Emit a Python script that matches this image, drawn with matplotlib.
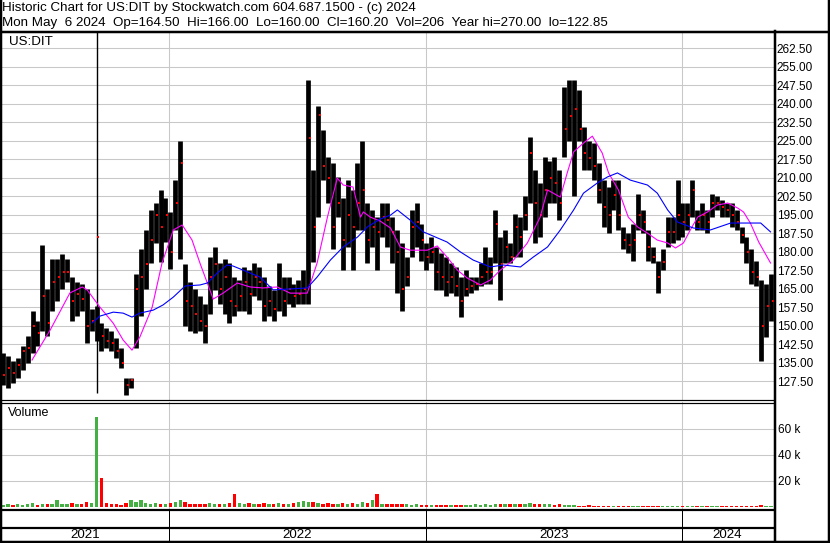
import numpy as np
import pandas as pd
import matplotlib
matplotlib.use("Agg")
import matplotlib.pyplot as plt
from matplotlib.lines import Line2D

plt.rcParams['font.family'] = ['Liberation Sans', 'DejaVu Sans']

# weekly bars, first week starting 2021-05-10
start = pd.Timestamp('2021-05-10')

hi = [139, 138, 136, 137, 142, 146, 156, 152, 183, 165,
      177, 177, 179, 177, 170, 168, 167, 165, 157, 158,
      151, 149, 148, 145, 141, 129, 129, 171, 181, 189,
      197, 200, 205, 202, 196, 209, 225, 175, 168, 165,
      162, 159, 178, 182, 175.5, 177, 175.5, 170, 168.5, 174,
      172.5, 175.5, 174, 170, 166, 164.5, 175.5, 170, 170, 167,
      168.5, 172.5, 249.5, 213, 239, 229.5, 218.5, 216, 210.5, 202,
      209, 205, 216, 225, 200, 197, 194, 200, 200, 194,
      189, 183.5, 178, 197, 200, 191.5, 183.5, 186, 182, 179.5,
      178, 175.5, 174, 170, 172.5, 170, 170, 175.5, 182, 178,
      197, 186, 189, 183.5, 195.5, 194, 202.5, 226.5, 213, 208,
      218.5, 217, 218.5, 213, 247, 249.5, 249.5, 245.5, 230.5, 225,
      224, 216, 209, 206.5, 209, 209, 190, 187.5, 191.5, 203.5,
      197, 189, 182, 176.5, 181, 194, 194, 209, 200, 200,
      209, 197, 200, 197, 203.5, 202.5, 201, 200, 200, 197,
      190, 186, 181, 176.5, 168.5, 167, 171]

lo = [126, 125, 127, 129, 132, 135, 139, 142, 148, 146,
      156, 160, 165, 168, 152, 154, 156, 143, 148, 144,
      140, 141, 140, 137, 133, 122, 125, 141, 154, 165,
      175.5, 183.5, 176, 184, 173, 189, 177, 150, 148, 147,
      148, 143, 155, 164.5, 159, 155, 151, 154, 156, 156,
      155, 162, 160.5, 152, 154, 152, 156, 154, 159, 157.5,
      159, 159, 159, 176, 194, 209, 200, 181, 194, 172.5,
      182, 172.5, 189, 189, 175.5, 182, 172.5, 186, 182, 175.5,
      163.5, 156, 166, 178, 182, 176.5, 172.5, 175.5, 164.5, 164.5,
      162, 163.5, 162, 153.5, 162, 163.5, 164.5, 166, 167, 167,
      175.5, 160.5, 175.5, 175.5, 178, 178, 189, 200, 183.5, 186,
      194, 200, 200, 193, 218.5, 225, 202.5, 225, 213, 213,
      209, 200, 190, 187.5, 197, 189, 181, 179.5, 176.5, 189,
      187.5, 176.5, 175.5, 163.5, 172.5, 182, 183.5, 185, 186, 189,
      194, 189, 189, 187.5, 194, 197, 194, 194, 190, 189,
      183.5, 175.5, 167, 166, 136, 145.5, 152]

cl = [130, 133, 131, 134, 140, 141, 150, 147, 162, 151,
      168, 170, 172, 172, 160, 163, 161, 150, 152, 186,
      146, 144, 143, 140, 135, 126, 128, 165, 170, 175,
      185, 195, 190, 195, 180, 200, 216, 160, 158, 155,
      152, 150, 170, 175, 165, 170, 160, 158, 162, 168,
      163, 170, 168, 158, 160, 157, 165, 160, 165, 162,
      163, 165, 226, 190, 235.5, 215, 210, 190, 200, 185,
      195, 190, 200, 205, 185, 190, 188, 194, 193, 188,
      180, 165, 170, 190, 192, 185, 178, 180, 172, 170,
      168, 170, 166, 160, 165, 166, 167, 170, 172, 172,
      191.5, 175, 182, 178, 190, 186, 195, 220, 200, 195,
      205, 210, 208, 200, 230, 235, 238, 230, 220, 218,
      215, 205, 198, 195, 203, 195, 185, 183, 185, 195,
      192, 182, 178, 170, 176, 188, 188, 195, 192, 195,
      205, 192, 195, 192, 200, 200, 198, 197, 195, 192,
      187, 180, 172, 170, 150, 158, 160.2]

# single-day spike (the 270.00 year high print)
spike_wk = [19]
spike_hi = [270]
spike_lo = [123]

vol_k = [1.5, 2, 1.2, 2.5, 1.8, 2, 2.8, 1.5, 2.2, 2.5,
         2.5, 5, 2, 2.5, 3, 2, 2.5, 3.5, 3, 69,
         22, 3, 2, 2.5, 1.5, 3, 5.5, 4, 5, 3,
         2.5, 3, 2, 2.5, 3, 3.5, 5, 3.5, 2.5, 2,
         2.5, 2, 3, 2.5, 2, 2.5, 3, 10, 3, 2.5,
         3, 2, 2.5, 3, 2.5, 2, 3, 2.5, 2, 3,
         3.5, 4.5, 4, 3.5, 3, 2.5, 3, 2, 2.5, 3,
         2, 3, 2.5, 3.5, 3, 5, 10, 2.5, 2, 2.5,
         2, 2.5, 2, 1.5, 2, 1.5, 1.5, 1.2, 1.5, 1.2,
         1.5, 1.2, 1.5, 1.8, 1.5, 1.5, 2, 1.5, 2, 1.5,
         2, 2.5, 2, 2.5, 2, 2.5, 2, 3, 2.5, 2,
         2.5, 2, 1.5, 2, 1.5, 1.2, 1.5, 1, 1, 1.2,
         0.8, 0.8, 1, 0.8, 0.8, 0.6, 0.8, 0.6, 0.8, 0.6,
         0.8, 0.6, 0.6, 0.8, 0.6, 0.8, 1, 0.8, 0.6, 0.6,
         0.8, 0.6, 0.6, 0.8, 0.6, 0.6, 0.5, 0.6, 0.6, 0.8,
         0.6, 0.8, 1, 0.8, 1.2, 1, 0.8]

# moving averages (week index, price)
pink_wk = [5.9, 9.6, 13.6, 16.1, 17.1, 19.7, 22.4, 24.4, 26.2, 27.8, 30.3, 32.3, 34.6, 36.4,
           38.4, 40.0, 41.5, 42.7, 44.7, 47.6, 50.2, 52.8, 55.7, 58.3, 61.8, 63.8, 65.9, 67.9,
           69.1, 71.1, 72.6, 73.2, 74.6, 76.6, 78.7, 80.7, 82.7, 86.2, 88.2, 90.2, 92.3, 94.3,
           97.0, 99.0, 101.0, 103.7, 106.5, 109.1, 110.6, 113.2, 114.6, 115.9, 117.9, 119.7,
           121.7, 123.0, 125.0, 127.0, 128.9, 130.9, 132.9, 135.0, 136.6, 138.2, 139.6, 141.1,
           143.1, 145.1, 147.2, 149.2, 150.4, 151.8, 153.5, 155.9]
pink_val = [136.2, 148.4, 163.4, 165.8, 164.6, 157.6, 151.1, 144.3, 140.2, 145.5, 157.6, 175.5,
            188.9, 190.9, 184.8, 175.5, 167.4, 160.9, 163.3, 167.4, 165.8, 165.4, 165.8, 163.3,
            163.3, 175.5, 194.1, 209.9, 207.1, 206.3, 194.1, 196.2, 194.1, 192.5, 189.7, 182.0,
            180.7, 180.7, 182.4, 177.9, 172.6, 169.4, 166.6, 168.6, 172.6, 176.7, 183.6, 194.1,
            205.1, 202.2, 212.0, 220.5, 224.1, 226.9, 220.1, 212.0, 205.1, 194.1, 190.1, 187.6,
            184.8, 183.6, 181.6, 183.6, 188.9, 194.1, 196.2, 199.0, 199.8, 197.8, 196.2, 191.7,
            184.0, 175.5]
blue_wk = [18.1, 19.7, 22.4, 24.4, 26.2, 27.8, 30.5, 32.5, 34.6, 37.0, 40.0, 41.5, 43.5, 45.5,
           46.7, 48.8, 52.2, 54.9, 58.3, 61.8, 63.8, 66.5, 69.1, 72.0, 74.0, 76.6, 78.7, 80.1,
           82.7, 85.4, 90.2, 92.9, 95.5, 99.0, 101.6, 105.1, 107.7, 110.6, 113.2, 115.9, 117.9,
           120.7, 122.8, 124.8, 127.4, 130.9, 132.9, 135.0, 137.0, 140.2, 143.7, 147.8, 150.4,
           153.9, 155.9]
blue_val = [151.2, 154.0, 155.6, 155.2, 153.6, 155.2, 156.4, 158.5, 161.7, 166.2, 166.6, 167.4,
            171.4, 174.7, 174.3, 172.6, 169.8, 164.6, 165.0, 165.4, 169.8, 176.7, 182.0, 186.0,
            190.1, 193.3, 194.9, 197.0, 192.9, 188.1, 184.0, 180.0, 176.7, 173.9, 174.7, 173.9,
            177.9, 182.0, 188.9, 197.0, 203.8, 207.9, 210.4, 212.0, 209.1, 207.1, 203.8, 197.0,
            192.1, 189.7, 188.9, 191.7, 191.7, 191.7, 188.1]

years = [2021, 2022, 2023, 2024]

title1 = "Historic Chart for US:DIT by Stockwatch.com 604.687.1500 - (c) 2024"
title2 = ("Mon May  6 2024  Op=164.50  Hi=166.00  Lo=160.00  Cl=160.20  "
          "Vol=206  Year hi=270.00  lo=122.85")

W, H = 830, 543


def box(x0, y0, x1, y1):
    return [x0 / W, 1 - y1 / H, (x1 - x0) / W, (y1 - y0) / H]


def fig_line(fig, x0, y0, x1, y1, lw=1.0):
    fig.add_artist(Line2D([x0 / W, x1 / W], [1 - y0 / H, 1 - y1 / H],
                          transform=fig.transFigure, color='black', lw=lw * 0.72))


def year_pos(y):
    return (pd.Timestamp(f'{y}-01-01') - start).days / 7


def plot_chart():
    weeks = np.arange(len(hi))
    xmin, xmax = -0.2, 156.6
    bounds = [year_pos(y) for y in years[1:]]

    fig = plt.figure(figsize=(W / 100, H / 100), dpi=100)

    fig.text(2 / W, 1 - 8 / H, title1, fontsize=9.6, va='center', ha='left')
    fig.text(2 / W, 1 - 23 / H, title2, fontsize=9.6, va='center', ha='left')

    # price panel
    ax = fig.add_axes(box(2, 32, 774, 400))
    ax.set_xlim(xmin, xmax)
    ax.set_ylim(120.0, 269.1)
    yt = np.arange(127.5, 263, 7.5)
    ax.set_yticks(yt)
    ax.set_yticklabels([f'{v:.2f}' for v in yt])
    ax.yaxis.tick_right()
    ax.tick_params(axis='y', length=0, pad=2, labelsize=8.5)
    ax.set_xticks([])
    for v in yt:
        ax.axhline(v, color='#c8c8c8', lw=0.75, zorder=0)
    for b in bounds:
        ax.axvline(b, color='#c8c8c8', lw=0.75, zorder=0)
    ax.vlines(weeks, lo, hi, color='black', lw=3.4, zorder=2)
    ax.vlines(spike_wk, spike_lo, spike_hi, color='black', lw=1.0, zorder=2)
    ax.plot(weeks + 0.3, cl, 's', color='red', ms=2.0, mew=0, zorder=3)
    ax.plot(pink_wk, pink_val, color='#ff00ff', lw=0.8, zorder=4)
    ax.plot(blue_wk, blue_val, color='#0000ff', lw=0.8, zorder=4)
    for s in ax.spines.values():
        s.set_visible(False)
    ax.text(0.009, 0.972, 'US:DIT', transform=ax.transAxes, fontsize=9.6, va='center')

    # volume panel
    av = fig.add_axes(box(2, 402, 774, 510))
    av.set_xlim(xmin, xmax)
    av.set_ylim(-2300, 80400)
    vt = [20000, 40000, 60000]
    av.set_yticks(vt)
    av.set_yticklabels(['20 k', '40 k', '60 k'])
    av.yaxis.tick_right()
    av.tick_params(axis='y', length=0, pad=3, labelsize=8.5)
    av.set_xticks([])
    for v in vt:
        av.axhline(v, color='#c8c8c8', lw=0.75, zorder=0)
    for b in bounds:
        av.axvline(b, color='#c8c8c8', lw=0.75, zorder=0)
    prev = [cl[0]] + cl[:-1]
    colors = ['#44b044' if c >= p else '#ff0000' for c, p in zip(cl, prev)]
    av.bar(weeks, np.array(vol_k) * 1000, width=0.7, bottom=0, color=colors, zorder=2)
    for s in av.spines.values():
        s.set_visible(False)
    av.text(0.008, 0.9, 'Volume', transform=av.transAxes, fontsize=9, va='center')

    # date row
    ad = fig.add_axes(box(2, 527, 774, 541))
    ad.set_xlim(xmin, xmax)
    ad.set_ylim(0, 1)
    ad.axis('off')
    edges = [xmin] + bounds + [weeks[-1]]
    for i, y in enumerate(years):
        ad.text((edges[i] + edges[i + 1]) / 2, 0.45, str(y), ha='center', va='center',
                fontsize=9.6)

    # frame lines
    fig_line(fig, 0, 31.5, 830, 31.5, 2.5)
    fig_line(fig, 1, 0, 1, 543, 2.5)
    fig_line(fig, 828.5, 0, 828.5, 543, 2.5)
    fig_line(fig, 0, 541.5, 830, 541.5, 2.5)
    fig_line(fig, 774.5, 31, 774.5, 543, 2.5)
    fig_line(fig, 0, 400, 774, 400, 1.2)
    fig_line(fig, 0, 402.5, 774, 402.5, 1.2)
    fig_line(fig, 0, 510, 774, 510, 2.2)
    fig_line(fig, 0, 527.5, 774, 527.5, 2.2)
    for b in bounds:
        px = 2 + (b - xmin) / (xmax - xmin) * 772
        fig_line(fig, px, 510, px, 541, 1.0)

    fig.savefig('out.png', dpi=100)


if __name__ == '__main__':
    plot_chart()
